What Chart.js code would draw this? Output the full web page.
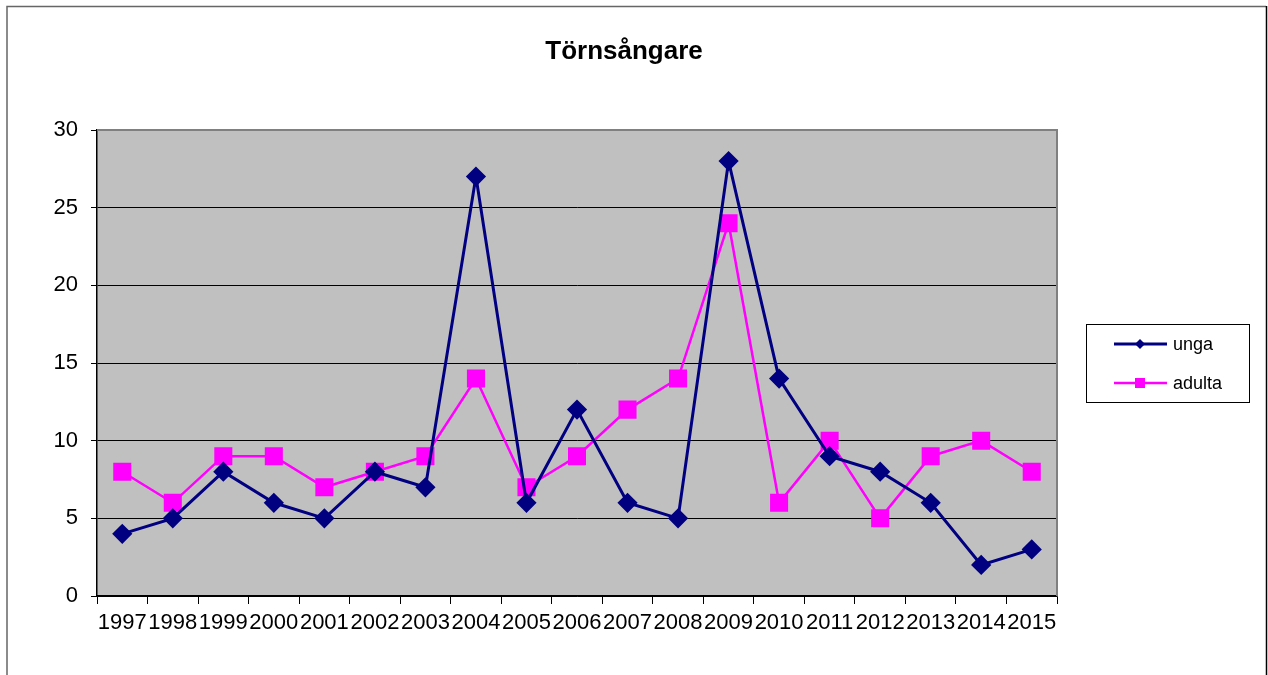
<!DOCTYPE html>
<html>
<head>
<meta charset="utf-8">
<title>Törnsångare</title>
<script src="https://cdn.jsdelivr.net/npm/chart.js@4/dist/chart.umd.min.js"></script>
<style>
  body { margin: 0; background: #fff; }
  canvas { display: block; }
</style>
</head>
<body>
<canvas id="chart" width="1268" height="675"></canvas>
<script>
const years = ['1997', '1998', '1999', '2000', '2001', '2002', '2003', '2004', '2005', '2006',
    '2007', '2008', '2009', '2010', '2011', '2012', '2013', '2014', '2015'];
const unga = [4, 5, 8, 6, 5, 8, 7, 27, 6, 12, 6, 5, 28, 14, 9, 8, 6, 2, 3];
const adulta = [8, 6, 9, 9, 7, 8, 9, 14, 7, 9, 12, 14, 24, 6, 10, 5, 9, 10, 8];
const yTicks = [0, 5, 10, 15, 20, 25, 30];

const FONT = '"Liberation Sans", Arial, sans-serif';
const NAVY = '#000080';
const MAGENTA = '#ff00ff';

// frame, plot background, title and legend box like the Excel original
const excelLook = {
    id: 'excelLook',
    beforeDraw(chart) {
        const { ctx, chartArea: a } = chart;
        ctx.save();
        ctx.fillStyle = '#c0c0c0';
        ctx.fillRect(a.left, a.top, a.right - a.left, a.bottom - a.top);

        ctx.lineWidth = 1.5;
        ctx.strokeStyle = '#666';
        ctx.beginPath();
        ctx.moveTo(7, 680);
        ctx.lineTo(7, 6.5);
        ctx.lineTo(1266, 6.5);
        ctx.stroke();
        ctx.strokeStyle = '#000';
        ctx.beginPath();
        ctx.moveTo(1266.5, 6);
        ctx.lineTo(1266.5, 680);
        ctx.stroke();

        ctx.fillStyle = '#000';
        ctx.font = 'bold 26px ' + FONT;
        ctx.textAlign = 'center';
        ctx.textBaseline = 'middle';
        ctx.fillText('Törnsångare', 624, 52);
        ctx.restore();
    },
    afterDraw(chart) {
        const { ctx, chartArea: a } = chart;
        ctx.save();
        // gray border on top and right of plot area
        ctx.strokeStyle = '#808080';
        ctx.lineWidth = 2;
        ctx.beginPath();
        ctx.moveTo(a.left, a.top);
        ctx.lineTo(a.right, a.top);
        ctx.lineTo(a.right, a.bottom);
        ctx.stroke();

        // legend
        ctx.strokeStyle = '#000';
        ctx.lineWidth = 1;
        ctx.strokeRect(1086.5, 324.5, 163, 78);
        const items = [
            { label: 'unga', color: NAVY, y: 344, shape: 'diamond' },
            { label: 'adulta', color: MAGENTA, y: 383, shape: 'square' },
        ];
        items.forEach((it) => {
            ctx.strokeStyle = it.color;
            ctx.fillStyle = it.color;
            ctx.lineWidth = it.shape === 'diamond' ? 3 : 2.5;
            ctx.beginPath();
            ctx.moveTo(1114, it.y);
            ctx.lineTo(1167, it.y);
            ctx.stroke();
            ctx.beginPath();
            if (it.shape === 'diamond') {
                ctx.moveTo(1140, it.y - 5);
                ctx.lineTo(1145, it.y);
                ctx.lineTo(1140, it.y + 5);
                ctx.lineTo(1135, it.y);
                ctx.closePath();
            } else {
                ctx.rect(1135, it.y - 5, 10, 10);
            }
            ctx.fill();
            ctx.fillStyle = '#000';
            ctx.font = '18px ' + FONT;
            ctx.textAlign = 'left';
            ctx.textBaseline = 'middle';
            ctx.fillText(it.label, 1173, it.y + 1);
        });
        ctx.restore();
    },
};

new Chart(document.getElementById('chart'), {
    type: 'line',
    data: {
        labels: years,
        datasets: [
            {
                label: 'unga',
                data: unga,
                borderColor: NAVY,
                backgroundColor: NAVY,
                borderWidth: 3,
                pointStyle: 'rectRot',
                pointRadius: 8,
                pointHoverRadius: 8,
                tension: 0,
            },
            {
                label: 'adulta',
                data: adulta,
                borderColor: MAGENTA,
                backgroundColor: MAGENTA,
                borderWidth: 2.5,
                pointStyle: 'rect',
                pointRadius: 11,
                pointHoverRadius: 11,
                tension: 0,
            },
        ],
    },
    options: {
        responsive: false,
        animation: false,
        events: [],
        layout: { padding: { top: 130, right: 211, left: 0, bottom: 0 } },
        plugins: {
            legend: { display: false },
            title: { display: false },
            tooltip: { enabled: false },
        },
        scales: {
            x: {
                offset: true,
                grid: {
                    offset: true,
                    drawOnChartArea: false,
                    color: '#000',
                    tickLength: 8,
                },
                border: { color: '#000', width: 1.5 },
                ticks: {
                    color: '#000',
                    font: { family: FONT, size: 22 },
                    autoSkip: false,
                    maxRotation: 0,
                    minRotation: 0,
                    padding: 6,
                },
                afterFit(scale) { scale.height = 79; },
            },
            y: {
                min: 0,
                max: 30,
                afterBuildTicks(scale) { scale.ticks = yTicks.map((v) => ({ value: v })); },
                grid: { color: '#000', tickLength: 6, lineWidth: 1 },
                border: { color: '#000', width: 1.5 },
                ticks: {
                    color: '#000',
                    font: { family: FONT, size: 22 },
                    padding: 13,
                },
                afterFit(scale) { scale.width = 97; },
            },
        },
    },
    plugins: [excelLook],
});
</script>
</body>
</html>
